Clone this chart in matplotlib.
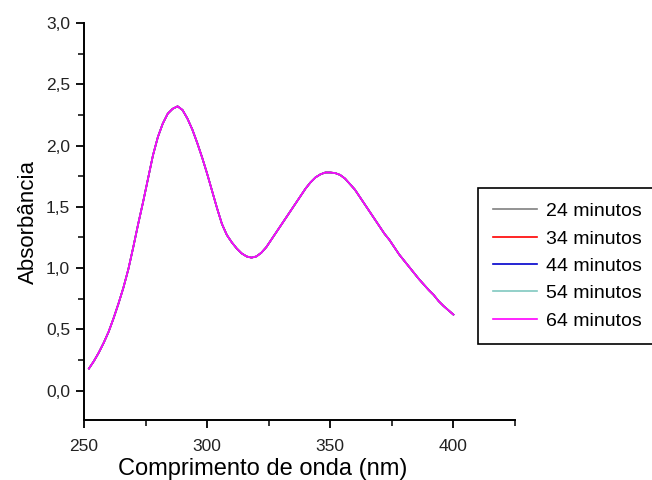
import matplotlib
matplotlib.use('Agg')

import matplotlib.pyplot as plt
from matplotlib.ticker import MultipleLocator, FuncFormatter

plt.rcParams['font.family'] = ['Liberation Sans', 'DejaVu Sans']

# comprimento de onda (nm)
wl = [252, 254, 256, 258, 260, 262, 264, 266, 268, 270, 272, 274, 276, 278,
      280, 282, 284, 286, 288, 290, 292, 294, 296, 298, 300, 302, 304, 306,
      308, 310, 312, 314, 316, 318, 320, 322, 324, 326, 328, 330, 332, 334,
      336, 338, 340, 342, 344, 346, 348, 350, 352, 354, 356, 358, 360, 362,
      364, 366, 368, 370, 372, 374, 376, 378, 380, 382, 384, 386, 388, 390,
      392, 394, 396, 398, 400]

# absorbancia (as cinco medidas se sobrepoem)
abs_24 = [0.18, 0.24, 0.31, 0.39, 0.48, 0.59, 0.71, 0.84, 0.99, 1.17, 1.36, 1.54, 1.73, 1.92,
          2.07, 2.18, 2.26, 2.30, 2.32, 2.29, 2.22, 2.13, 2.02, 1.90, 1.77, 1.63, 1.49, 1.36,
          1.27, 1.21, 1.16, 1.12, 1.095, 1.085, 1.095, 1.125, 1.17, 1.23, 1.29, 1.35, 1.41, 1.47,
          1.53, 1.59, 1.65, 1.70, 1.74, 1.765, 1.78, 1.78, 1.775, 1.76, 1.73, 1.685, 1.64, 1.58,
          1.52, 1.46, 1.40, 1.34, 1.28, 1.23, 1.17, 1.11, 1.06, 1.01, 0.96, 0.91, 0.865, 0.82,
          0.78, 0.73, 0.69, 0.655, 0.62]
abs_34 = list(abs_24)
abs_44 = list(abs_24)
abs_54 = list(abs_24)
abs_64 = list(abs_24)

labels = ['24 minutos', '34 minutos', '44 minutos', '54 minutos', '64 minutos']
colors = ['#808080', '#ff0000', '#0000cc', '#80c8c0', '#ff00ff']
series = [abs_24, abs_34, abs_44, abs_54, abs_64]

fig = plt.figure(figsize=(6.52, 4.8), dpi=100)
ax = fig.add_axes([84/652., 1-420/480., (515-84)/652., (420-23)/480.])

for s, c, l in zip(series, colors, labels):
    ax.plot(wl, s, color=c, lw=1.2, label=l)

ax.set_xlim(250, 425)
ax.set_ylim(-0.24, 3.0)

ax.spines['top'].set_visible(False)
ax.spines['right'].set_visible(False)
ax.spines['left'].set_linewidth(1.4)
ax.spines['bottom'].set_linewidth(1.4)

ax.xaxis.set_major_locator(MultipleLocator(50))
ax.xaxis.set_minor_locator(MultipleLocator(25))
ax.yaxis.set_major_locator(MultipleLocator(0.5))
ax.yaxis.set_minor_locator(MultipleLocator(0.25))
ax.yaxis.set_major_formatter(FuncFormatter(lambda v, p: '{:.1f}'.format(v).replace('.', ',')))

ax.tick_params(which='major', direction='out', length=6, width=1.3, labelsize=12.5,
               labelcolor='#222222', pad=4)
ax.tick_params(axis='x', which='major', pad=8)
ax.tick_params(which='minor', direction='out', length=4, width=1.1)

ax.set_xlabel('Comprimento de onda (nm)', fontsize=17, labelpad=2)
ax.xaxis.set_label_coords(0.415, -0.095)
ax.set_ylabel('Absorbância', fontsize=16, labelpad=5)

leg = fig.legend(loc='upper left', bbox_to_anchor=(478/652., 1-188/480.),
                 fontsize=14, frameon=True, fancybox=False, framealpha=1,
                 edgecolor='black', handlelength=2.3, handletextpad=0.45,
                 labelspacing=0.5, borderpad=0.75, borderaxespad=0)
leg.get_frame().set_linewidth(1.2)

plt.savefig('out.png', dpi=100)
plt.close()
